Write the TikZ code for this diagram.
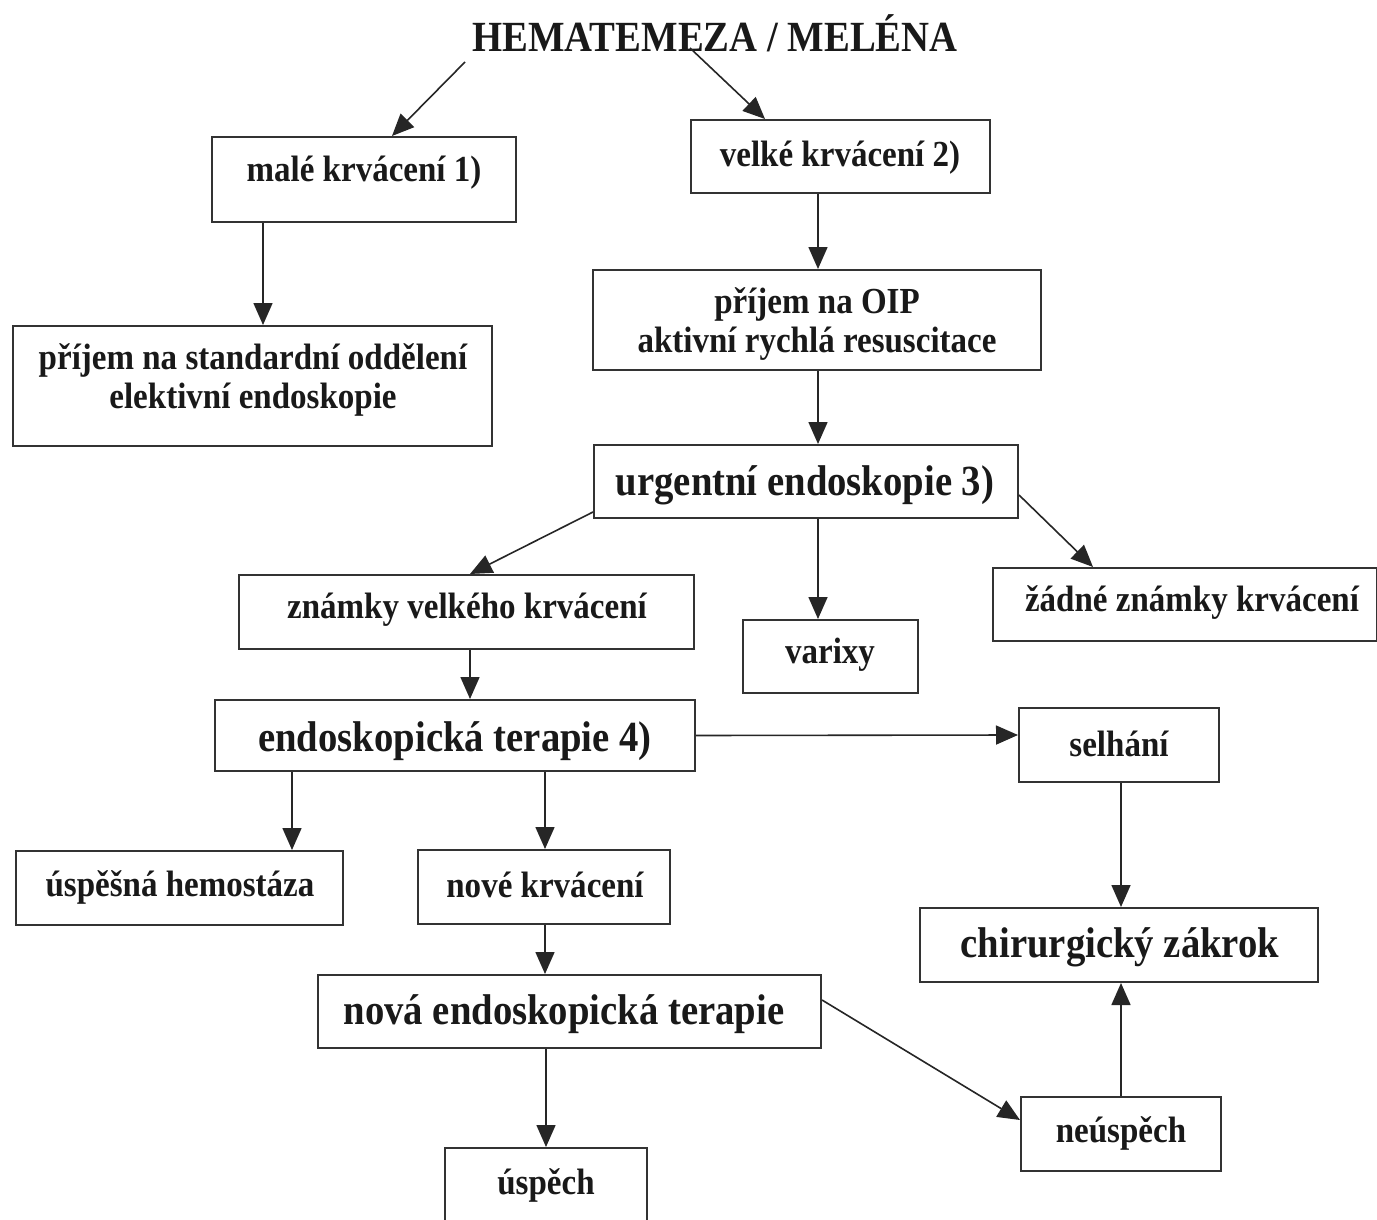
\documentclass[tikz,border=0pt]{standalone}
\usepackage{fontspec}
\newfontfamily\diafont{Liberation Serif}[FakeStretch=0.9]
\usetikzlibrary{arrows.meta}
\tikzset{
  box/.style={draw=black!80, line width=2pt, inner sep=0pt, fill=none},
  txt/.style={font=\diafont\bfseries\fontsize{36.7}{39}\selectfont, inner sep=0pt, align=center, text=black!90, yshift=-3pt},
  bigtxt/.style={font=\diafont\bfseries\fontsize{43}{46}\selectfont, inner sep=0pt, align=center, text=black!90, yshift=-3pt},
  titletxt/.style={font=\diafont\bfseries\fontsize{43}{46}\selectfont, inner sep=0pt, text=black!90, yshift=-2pt},
  arr/.style={-{Triangle[width=19pt,length=22pt]}, line width=1.6pt, draw=black!85},
}
\begin{document}
\begin{tikzpicture}[x=1pt,y=-1pt]
\useasboundingbox (0,0) rectangle (1377,1220);
\clip (0,0) rectangle (1377,1220);
\fill[white] (0,0) rectangle (1377,1220);

% title
\node[titletxt] (title) at (715,31) {HEMATEMEZA / MELÉNA};
\coordinate (tl) at (465,62);
\coordinate (tr) at (690,48);

% boxes
\node[box, minimum width=304pt, minimum height=85pt] (m1) at (364,179.5) {};
\node[box, minimum width=299pt, minimum height=73pt] (v2) at (840.5,156.5) {};
\node[box, minimum width=448pt, minimum height=100pt] (oip) at (817,320) {};
\node[box, minimum width=479pt, minimum height=120pt] (std) at (252.5,386) {};
\node[box, minimum width=424pt, minimum height=73pt] (urg) at (806,481.5) {};
\node[box, minimum width=455pt, minimum height=74pt] (zvk) at (466.5,612) {};
\node[box, minimum width=175pt, minimum height=73pt] (var) at (830.5,656.5) {};
\node[box, minimum width=384pt, minimum height=73pt] (zad) at (1185,604.5) {};
\node[box, minimum width=480pt, minimum height=71pt] (endo) at (455,735.5) {};
\node[box, minimum width=200pt, minimum height=74pt] (sel) at (1119,745) {};
\node[box, minimum width=327pt, minimum height=74pt] (uh) at (179.5,888) {};
\node[box, minimum width=252pt, minimum height=74pt] (nove) at (544,887) {};
\node[box, minimum width=398pt, minimum height=74pt] (chir) at (1119,945) {};
\node[box, minimum width=503pt, minimum height=73pt] (nova) at (569.5,1011.5) {};
\node[box, minimum width=200pt, minimum height=74pt] (neu) at (1121,1134) {};
\node[box, minimum width=202pt, minimum height=80pt] (usp) at (546,1188) {};

% texts
\node[txt] (tm1) at (364,170) {malé krvácení 1)};
\node[txt] (tv2) at (840,155) {velké krvácení 2)};
\node[txt] (toip) at (817,321) {příjem na OIP\\aktivní rychlá resuscitace};
\node[txt] (tstd) at (253,377) {příjem na standardní oddělení\\elektivní endoskopie};
\node[bigtxt] (turg) at (805,482) {urgentní endoskopie 3)};
\node[txt] (tzvk) at (467,607) {známky velkého krvácení};
\node[txt] (tvar) at (830,652) {varixy};
\node[txt] (tzad) at (1192,600) {žádné známky krvácení};
\node[bigtxt] (tendo) at (455,738) {endoskopická terapie 4)};
\node[txt] (tsel) at (1119,741) {selhání};
\node[txt] (tuh) at (180,884) {úspěšná hemostáza};
\node[txt] (tnove) at (545,882) {nové krvácení};
\node[bigtxt] (tchir) at (1120,944) {chirurgický zákrok};
\node[bigtxt] (tnova) at (564,1011) {nová endoskopická terapie};
\node[txt] (tneu) at (1121,1130) {neúspěch};
\node[txt] (tusp) at (546,1182) {úspěch};

% connectors
\draw[arr] (tl) -- ([xshift=28pt]m1.north);
\draw[arr] (tr) -- ([xshift=-75.5pt]v2.north);
\draw[arr] ([xshift=-101pt]m1.south) -- ([xshift=10.5pt]std.north);
\draw[arr] ([xshift=-22.5pt]v2.south) -- ([xshift=1pt]oip.north);
\draw[arr] ([xshift=1pt]oip.south) -- ([xshift=12pt]urg.north);
\draw[arr] ([yshift=-30.5pt]urg.west) -- ([xshift=3.5pt]zvk.north);
\draw[arr] ([xshift=12pt]urg.south) -- ([xshift=-12.5pt]var.north);
\draw[arr] ([yshift=-13.5pt]urg.east) -- ([xshift=-92pt]zad.north);
\draw[arr] ([xshift=3.5pt]zvk.south) -- ([xshift=15pt]endo.north);
\draw[arr] (endo.east) -- ([yshift=10pt]sel.west);
\draw[arr] ([xshift=-163pt]endo.south) -- ([xshift=112.5pt]uh.north);
\draw[arr] ([xshift=90pt]endo.south) -- ([xshift=1pt]nove.north);
\draw[arr] ([xshift=2pt]sel.south) -- ([xshift=2pt]chir.north);
\draw[arr] ([xshift=1pt]nove.south) -- ([xshift=-24.5pt]nova.north);
\draw[arr] ([yshift=11.5pt]nova.east) -- ([yshift=14pt]neu.west);
\draw[arr] ([xshift=-23.5pt]nova.south) -- (usp.north);
\draw[arr] (neu.north) -- ([xshift=2pt]chir.south);
\end{tikzpicture}
\end{document}
